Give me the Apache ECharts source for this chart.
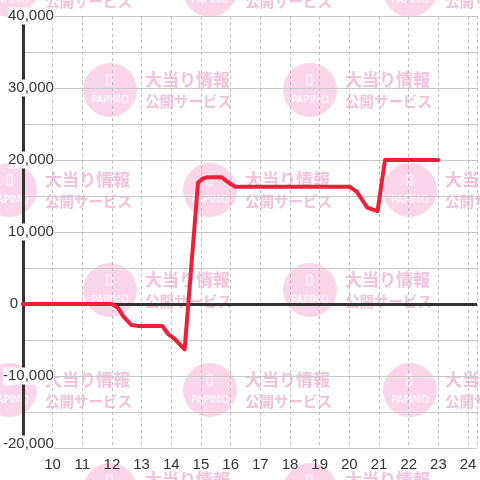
<!DOCTYPE html>
<html>
<head>
<meta charset="utf-8">
<script src="https://cdn.jsdelivr.net/npm/echarts@6/dist/echarts.min.js"></script>
<style>
  html, body { margin: 0; padding: 0; background: #fff; }
  #chart { width: 480px; height: 480px; }
</style>
</head>
<body>
<div id="chart"></div>
<script>
// hour of day
const hours = [9, 12, 12.2, 12.4, 12.65, 12.9, 13.7, 13.9, 14.1, 14.45, 14.9, 15.05, 15.2, 15.7, 15.95, 16.15, 20.0, 20.25, 20.6, 20.95, 21.2, 23.0];
// balance
const balance = [0, 0, -500, -1800, -2900, -3050, -3050, -4200, -4800, -6300, 16800, 17400, 17600, 17600, 16800, 16300, 16300, 15600, 13400, 12900, 20000, 20000];

const yMin = -20000;
const yMax = 40000;
const xMin = 9;
const xMax = 24.3;

// watermark tiles
const wmRows = [-10, 90, 190, 290, 390, 490];
const wmCols = [10, 110, 210, 310, 410];

const chart = echarts.init(document.getElementById('chart'));

const wmElements = [];
wmRows.forEach((cy, j) => {
  wmCols.forEach((cx, k) => {
    if ((j + k) % 2 !== 0) return;
    wmElements.push({
      type: 'group',
      x: cx, y: cy,
      silent: true,
      children: [
        { type: 'circle', shape: { cx: 0, cy: 0, r: 27 }, style: { fill: '#fbd5ea' } },
        { type: 'rect', shape: { x: -3, y: -15, width: 5, height: 10 }, style: { fill: 'none', stroke: '#fff', lineWidth: 1 } },
        { type: 'text', x: 0, y: 10, style: { text: 'PAPIMO', fill: '#fff', font: '10px "DejaVu Sans"', align: 'center', verticalAlign: 'middle' } },
        { type: 'text', x: 35, y: -10, style: { text: '大当り情報', fill: '#f3c1db', font: 'bold 17px "Noto Sans CJK JP"', verticalAlign: 'middle' } },
        { type: 'text', x: 35, y: 11, style: { text: '公開サービス', fill: '#f3c1db', font: 'bold 14.5px "Noto Sans CJK JP"', verticalAlign: 'middle' } }
      ]
    });
  });
});

const option = {
  animation: false,
  backgroundColor: '#fff',
  textStyle: { fontFamily: '"Liberation Sans", Arial, sans-serif' },
  graphic: { elements: [{ type: 'group', z: -10, children: wmElements }] },
  grid: { left: 21, top: 16, right: 0, bottom: 32 },
  xAxis: {
    type: 'value',
    min: xMin,
    max: xMax,
    interval: 1,
    axisLine: { show: false },
    axisTick: { show: false },
    axisLabel: {
      fontSize: 15,
      color: '#333',
      margin: 9,
      formatter: v => (Number.isInteger(v) && v > xMin) ? String(v) : ''
    },
    splitLine: { show: true, lineStyle: { color: '#bdbdbd', type: [3, 3], width: 1 } }
  },
  yAxis: {
    type: 'value',
    min: yMin,
    max: yMax,
    interval: 10000,
    axisLine: { show: true, lineStyle: { color: '#333', width: 3 } },
    axisTick: { show: false },
    axisLabel: {
      fontSize: 15,
      color: '#333',
      margin: -31,
      formatter: v => {
        if (v === 0) return '{z|0}';
        const s = v.toLocaleString('en-US');
        return v === yMin ? '{b|' + s + '}' : '{a|' + s + '}';
      },
      rich: {
        a: { fontSize: 15, color: '#333', backgroundColor: '#fff', padding: [1, 0, 1, 0] },
        b: { fontSize: 15, color: '#333', backgroundColor: '#fff', padding: [1, 0, 9, 0] },
        z: { fontSize: 15, color: '#333', width: 44, align: 'left' }
      }
    },
    splitLine: { show: true, lineStyle: { color: '#c8c8c8', width: 1 } },
    minorTick: { show: false, splitNumber: 2 },
    minorSplitLine: { show: true, lineStyle: { color: '#c8c8c8', width: 1 } }
  },
  series: [{
    type: 'line',
    data: hours.map((h, i) => [h, balance[i]]),
    showSymbol: false,
    lineStyle: { color: '#ee1f36', width: 4, join: 'round', cap: 'round' },
    markLine: {
      silent: true,
      symbol: 'none',
      z: 1,
      label: { show: false },
      lineStyle: { color: '#333', width: 3, type: 'solid' },
      data: [{ yAxis: 0 }]
    },
    z: 3
  }]
};

chart.setOption(option);
</script>
</body>
</html>
